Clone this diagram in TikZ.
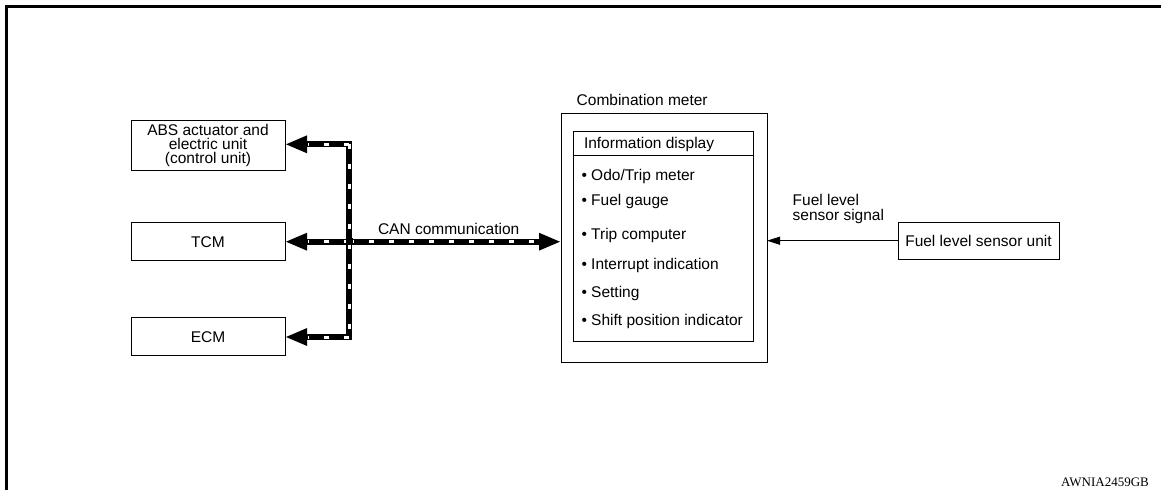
\documentclass[tikz,border=0pt]{standalone}
\usepackage{fontspec}
\setmainfont{Liberation Sans}
\newfontfamily\codefont{Liberation Serif}
\usetikzlibrary{arrows.meta}
\newcommand\fs{\fontsize{15.5}{14.2}\selectfont}
\begin{document}
\begin{tikzpicture}[x=1pt,y=-1pt,
  box/.style={draw=black, line width=1pt, inner sep=0pt, outer sep=0pt, align=center, font=\fs},
  txt/.style={inner sep=0pt, outer sep=0pt, anchor=base west, font=\fs},
  busline/.style={draw=black, line width=6pt, line cap=rect},
  busarrow/.style={busline, -{Triangle[length=22pt,width=16pt]}},
  buswhite/.style={draw=white, line width=3pt, dash pattern=on 5pt off 15pt},
  sigarrow/.style={draw=black, line width=1pt, -{Triangle[length=13pt,width=8pt]}},
  frameline/.style={draw=black, line width=3pt}
]
\useasboundingbox (0,0) rectangle (1161,490);
% frame
\draw[frameline] (6,490) -- (6,6) -- (1161,6);

% left units
\node[box, minimum width=154pt, minimum height=49.6pt] (abs) at (208,145.5)
  {ABS actuator and\\electric unit\\(control unit)};
\node[box, minimum width=154pt, minimum height=38pt] (tcm) at (208,241.7) {TCM};
\node[box, minimum width=154pt, minimum height=38pt] (ecm) at (208,336.7) {ECM};

% combination meter
\node[box, minimum width=206pt, minimum height=249.4pt] (meter) at (664,238) {};
\node[txt] (meterlbl) at (576.7,105.7) {Combination meter};
\node[box, minimum width=180pt, minimum height=210pt] (disp) at (663.3,236.7) {};
\coordinate (hdl) at (573.3,155);
\coordinate (hdr) at (753.3,155);
\draw[line width=1pt] (hdl) -- (hdr);
\node[txt] (disptitle) at (584,148.3) {Information display};
\node[txt] (i1) at (581.5,180) {• Odo/Trip meter};
\node[txt] (i2) at (581.5,205) {• Fuel gauge};
\node[txt] (i3) at (581.5,239) {• Trip computer};
\node[txt] (i4) at (581.5,269) {• Interrupt indication};
\node[txt] (i5) at (581.5,297.7) {• Setting};
\node[txt] (i6) at (581.5,325) {• Shift position indicator};

% fuel level sensor
\node[box, minimum width=161pt, minimum height=37.3pt] (sensor) at (978.5,240.7) {Fuel level sensor unit};
\draw[sigarrow] (sensor.west) -- (sensor.west -| meter.east);
\node[txt, align=left] (siglbl) at (792.7,220) {Fuel level\\sensor signal};

% CAN bus
\coordinate (j1) at (349,144.3);
\coordinate (j2) at (349,241.7);
\coordinate (j3) at (349,337);
\coordinate (canend) at (j2 -| meter.west);
\draw[busline] (j1) -- (j3);
\draw[busarrow] (j1) -- (j1 -| abs.east);
\draw[busarrow] (j2) -- (tcm.east);
\draw[busarrow] (j3) -- (j3 -| ecm.east);
\draw[busarrow] (j2) -- (canend);
\draw[buswhite] (j1) -- (j3);
\draw[buswhite, shorten >=23pt] (j1) -- (j1 -| abs.east);
\draw[buswhite, shorten >=23pt] (j3) -- (j3 -| ecm.east);
\draw[buswhite, shorten >=23pt] (j2) -- (tcm.east);
\draw[buswhite, shorten >=23pt] (j2) -- (canend);
\fill[black] ([shift={(-3.5,-3.5)}]j2) rectangle ([shift={(3.5,3.5)}]j2);
\node[txt] (canlbl) at (378,234.3) {CAN communication};

% code
\node[inner sep=0pt, anchor=base east, font=\codefont\fontsize{13}{13}\selectfont] (code) at (1149,486) {AWNIA2459GB};
\end{tikzpicture}
\end{document}
